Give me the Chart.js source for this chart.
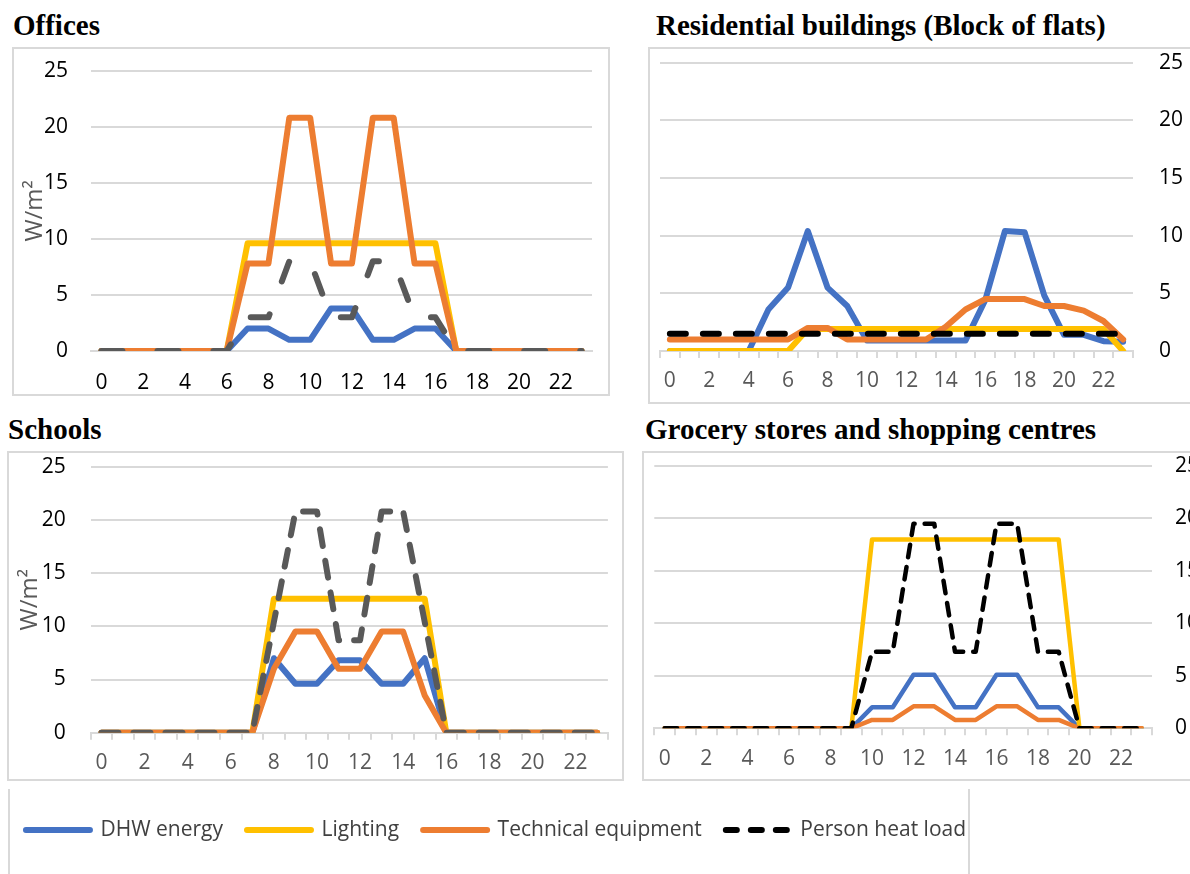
<!DOCTYPE html>
<html>
<head>
<meta charset="utf-8">
<script src="https://cdn.jsdelivr.net/npm/chart.js@4.4.1/dist/chart.umd.min.js"></script>
<style>
html,body{margin:0;padding:0;background:#fff;}
body{width:1190px;height:874px;overflow:hidden;position:relative;}
.title{position:absolute;font-family:"Liberation Serif","Times New Roman",serif;font-weight:bold;font-size:29px;line-height:29px;color:#000;white-space:nowrap;}
.frame{position:absolute;border:2px solid #d9d9d9;box-sizing:border-box;}
canvas{position:absolute;}
</style>
</head>
<body>
<div class="title" style="left:13px;top:11px;">Offices</div>
<div class="title" style="left:656px;top:11px;">Residential buildings (Block of flats)</div>
<div class="title" style="left:8px;top:415px;">Schools</div>
<div class="title" style="left:645px;top:415px;">Grocery stores and shopping centres</div>

<div class="frame" style="left:12px;top:47px;width:598px;height:349px;"></div>
<div class="frame" style="left:648px;top:47px;width:560px;height:357px;"></div>
<div class="frame" style="left:7px;top:451px;width:617px;height:330px;"></div>
<div class="frame" style="left:642px;top:451px;width:560px;height:330px;"></div>
<div class="frame" style="left:8px;top:789px;width:962px;height:100px;border-top:none;border-bottom:none;"></div>

<canvas id="offices" width="596" height="346" style="left:14px;top:49px;"></canvas>
<canvas id="residential" width="540" height="352" style="left:650px;top:50px;"></canvas>
<canvas id="schools" width="612" height="326" style="left:10px;top:453px;"></canvas>
<canvas id="grocery" width="545" height="326" style="left:645px;top:453px;"></canvas>
<canvas id="legend" width="992" height="84" style="left:0px;top:790px;"></canvas>

<script>
// ---------- DATA ----------
const hours = ['0','1','2','3','4','5','6','7','8','9','10','11','12','13','14','15','16','17','18','19','20','21','22','23'];
const seriesNames = ['DHW energy', 'Lighting', 'Technical equipment', 'Person heat load'];
const yMin = 0, yMax = 25, yStep = 5;

const officesDHW      = [0,0,0,0,0,0,0, 2,2,1,1,3.8,3.8,1,1,2,2, 0,0,0,0,0,0,0];
const officesLighting = [0,0,0,0,0,0,0, 9.6,9.6,9.6,9.6,9.6,9.6,9.6,9.6,9.6,9.6, 0,0,0,0,0,0,0];
const officesTech     = [0,0,0,0,0,0,0, 7.8,7.8,20.8,20.8,7.8,7.8,20.8,20.8,7.8,7.8, 0,0,0,0,0,0,0];
const officesPerson   = [0,0,0,0,0,0,0, 3,3,8,8,3,3,8,8,3,3, 0,0,0,0,0,0,0];

const residentialDHW      = [0,0,0,0,0,3.6,5.5,10.4,5.5,3.9,0.9,0.9,0.9,0.9,0.9,0.9,4.4,10.4,10.3,4.8,1.4,1.4,0.85,0.8];
const residentialLighting = [0,0,0,0,0,0,0,1.9,1.9,1.9,1.9,1.9,1.9,1.9,1.9,1.9,1.9,1.9,1.9,1.9,1.9,1.9,1.9,0];
const residentialTech     = [1,1,1,1,1,1,1,2,2,1,1,1,1,1,2.1,3.6,4.5,4.5,4.5,3.9,3.9,3.5,2.6,1];
const residentialPerson   = [1.5,1.5,1.5,1.5,1.5,1.5,1.5,1.5,1.5,1.5,1.5,1.5,1.5,1.5,1.5,1.5,1.5,1.5,1.5,1.5,1.5,1.5,1.5,1.5];

const schoolsDHW      = [0,0,0,0,0,0,0,0, 7,4.6,4.6,6.8,6.8,4.6,4.6,7, 0,0,0,0,0,0,0,0];
const schoolsLighting = [0,0,0,0,0,0,0,0, 12.6,12.6,12.6,12.6,12.6,12.6,12.6,12.6, 0,0,0,0,0,0,0,0];
const schoolsTech     = [0,0,0,0,0,0,0,0, 6,9.5,9.5,6,6,9.5,9.5,3.5, 0,0,0,0,0,0,0,0];
const schoolsPerson   = [0,0,0,0,0,0,0,0, 10.4,20.8,20.8,8.7,8.7,20.8,20.8,10.4, 0,0,0,0,0,0,0,0];

const groceryDHW      = [0,0,0,0,0,0,0,0,0,0, 2,2,5.1,5.1,2,2,5.1,5.1,2,2, 0,0,0,0];
const groceryLighting = [0,0,0,0,0,0,0,0,0,0, 18,18,18,18,18,18,18,18,18,18, 0,0,0,0];
const groceryTech     = [0,0,0,0,0,0,0,0,0,0, 0.8,0.8,2.1,2.1,0.8,0.8,2.1,2.1,0.8,0.8, 0,0,0,0];
const groceryPerson   = [0,0,0,0,0,0,0,0,0,0, 7.3,7.3,19.5,19.5,7.3,7.3,19.5,19.5,7.3,7.3, 0,0,0,0];

// ---------- STYLE ----------
const BLUE = '#4472C4', YELLOW = '#FFC000', ORANGE = '#ED7D31';
const GRID = '#d9d9d9';
const FONT = '"Open Sans", "Noto Sans", sans-serif';

function makeDatasets(dhw, light, tech, person, personColor, width, dash) {
  const base = {borderWidth: width, pointRadius: 0, pointHoverRadius: 0, tension: 0, fill: false,
                borderCapStyle: 'round', borderJoinStyle: 'round'};
  return [
    Object.assign({}, base, {label: seriesNames[0], data: dhw, borderColor: BLUE, backgroundColor: BLUE, order: 4}),
    Object.assign({}, base, {label: seriesNames[1], data: light, borderColor: YELLOW, backgroundColor: YELLOW, order: 3}),
    Object.assign({}, base, {label: seriesNames[2], data: tech, borderColor: ORANGE, backgroundColor: ORANGE, order: 2}),
    Object.assign({}, base, {label: seriesNames[3], data: person, borderColor: personColor, backgroundColor: personColor, borderDash: dash, order: 1})
  ];
}

function makeChart(id, datasets, o) {
  const yScale = {
    position: o.yPos, min: yMin, max: yMax,
    ticks: {stepSize: yStep, padding: 0, color: '#000', font: {family: FONT, size: 21, lineHeight: 1}},
    grid: {color: GRID, lineWidth: 2, drawTicks: true, tickLength: o.yPad, tickColor: 'rgba(0,0,0,0)'},
    border: {display: false},
    afterFit: s => { s.width = o.yWidth; }
  };
  if (o.axisTitle) {
    yScale.title = {display: true, text: 'W/m²', color: '#595959',
                    font: {family: FONT, size: 24, lineHeight: 1.2}, padding: {top: o.titlePad, bottom: 0}};
  }
  return new Chart(document.getElementById(id), {
    type: 'line',
    data: {labels: hours, datasets: datasets},
    options: {
      responsive: false, animation: false, devicePixelRatio: 1,
      layout: {padding: o.padding},
      plugins: {legend: {display: false}, tooltip: {enabled: false}},
      scales: {
        x: {
          offset: true,
          ticks: {autoSkip: false, maxRotation: 0, padding: o.xPad, color: o.xColor,
                  font: {family: FONT, size: 21, lineHeight: 1},
                  callback: function(v, i) { return i % 2 === 0 ? this.getLabelForValue(v) : ''; }},
          grid: {display: true, drawOnChartArea: false, drawTicks: o.xTicks, tickLength: 7, offset: true,
                 color: GRID, lineWidth: 2},
          border: {display: true, color: GRID, width: 2},
          afterFit: s => { s.height = o.xHeight; }
        },
        y: yScale
      }
    }
  });
}

makeChart('offices',
  makeDatasets(officesDHW, officesLighting, officesTech, officesPerson, '#595959', 6, [21, 35]),
  {yPos: 'left', yWidth: 77, xHeight: 44, padding: {left: 0, right: 18, top: 21.7, bottom: 0},
   yPad: 23, xPad: 22, xTicks: false, xColor: '#000', axisTitle: true, titlePad: 6.6});

makeChart('residential',
  makeDatasets(residentialDHW, residentialLighting, residentialTech, residentialPerson, '#000000', 6, [16, 17]),
  {yPos: 'right', yWidth: 57, xHeight: 51, padding: {left: 10, right: 0, top: 12.7, bottom: 0},
   yPad: 26, xPad: 13, xTicks: true, xColor: '#595959', axisTitle: false});

makeChart('schools',
  makeDatasets(schoolsDHW, schoolsLighting, schoolsTech, schoolsPerson, '#595959', 6, [17, 15]),
  {yPos: 'left', yWidth: 80.7, xHeight: 46.3, padding: {left: 0, right: 14.1, top: 13.7, bottom: 0},
   yPad: 25, xPad: 13, xTicks: true, xColor: '#595959', axisTitle: true, titlePad: 5.7});

makeChart('grocery',
  makeDatasets(groceryDHW, groceryLighting, groceryTech, groceryPerson, '#000000', 4.5, [12.5, 10]),
  {yPos: 'right', yWidth: 38, xHeight: 50.7, padding: {left: 9.3, right: 0, top: 13, bottom: 0},
   yPad: 23, xPad: 13, xTicks: true, xColor: '#595959', axisTitle: false});

// Legend (shared)
const legendSets = makeDatasets([], [], [], [], '#000000', 6, [11, 14]).map(d => { delete d.order; return d; });
new Chart(document.getElementById('legend'), {
  type: 'line',
  data: {labels: [], datasets: legendSets},
  options: {
    responsive: false, animation: false, devicePixelRatio: 1,
    layout: {padding: {top: 5.5}},
    scales: {x: {display: false}, y: {display: false}},
    plugins: {
      tooltip: {enabled: false},
      legend: {display: true, position: 'top', maxHeight: 80,
        labels: {usePointStyle: true, pointStyle: 'line', pointStyleWidth: 64, padding: 24,
                 color: '#404040', font: {family: FONT, size: 21},
                 generateLabels: (chart) => Chart.defaults.plugins.legend.labels.generateLabels(chart).map(item => {
                   const ds = chart.data.datasets[item.datasetIndex];
                   item.lineDash = ds.borderDash || [];
                   item.lineCap = 'round';
                   item.lineWidth = ds.borderWidth;
                   return item;
                 })}}
    }
  }
});
</script>
</body>
</html>
